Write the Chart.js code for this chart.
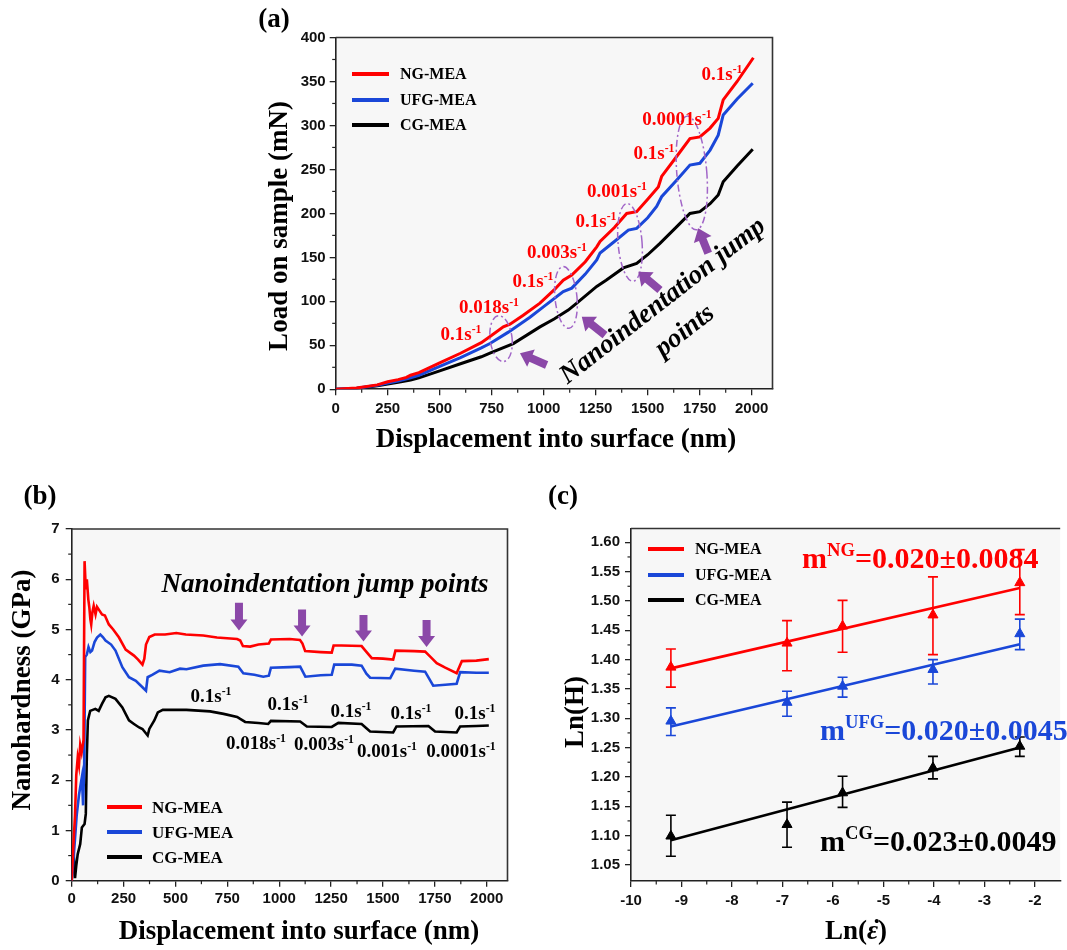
<!DOCTYPE html>
<html><head><meta charset="utf-8">
<script src="https://cdn.jsdelivr.net/npm/chart.js@4.4.1/dist/chart.umd.min.js"></script>
<style>
html,body{margin:0;padding:0;background:#fff;width:1067px;height:950px;overflow:hidden;position:relative;}
canvas{position:absolute;left:0;top:0;}
.t{position:absolute;white-space:nowrap;font-family:'Liberation Serif','Times New Roman',serif;font-weight:bold;line-height:1;color:#000;}
.sup{font-size:0.62em;position:relative;top:-0.62em;}
.lg{position:absolute;height:4px;}
.eps{position:relative;font-style:italic;}
.eps .dot{position:absolute;left:0.2em;top:0.02em;font-style:normal;}
</style></head><body>
<canvas id="ca" width="1067" height="950"></canvas>
<canvas id="cb" width="1067" height="950"></canvas>
<canvas id="cc" width="1067" height="950"></canvas>
<script>
// ---------------- DATA ----------------
const seriesNames = ['NG-MEA', 'UFG-MEA', 'CG-MEA'];

// (a) Load on sample (mN) vs displacement (nm): [displacement, load]
const loadNG = [[0,0],[100,1.5],[200,5],[250,8.5],[300,11],[340,13.5],[360,16],[400,19],[500,30],[600,41],[700,53],[742,60],[806,71],[838,74],[900,84],[982,98],[1050,113],[1094,124],[1135,130],[1200,145],[1255,162],[1271,168],[1340,184],[1399,200],[1447,202],[1500,216],[1551,230],[1567,242],[1640,265],[1703,285],[1751,287],[1800,297],[1839,308],[1863,329],[1930,350],[2008,377]];
const loadUFG = [[0,0],[100,1.2],[200,4.5],[250,7],[300,9.5],[360,13],[400,16],[500,26],[600,36],[700,47],[742,52],[830,65],[934,82],[1000,94],[1094,111],[1135,115],[1200,131],[1255,147],[1271,155],[1340,168],[1407,181],[1447,183],[1500,195],[1543,208],[1567,219],[1640,238],[1703,255],[1751,257],[1800,272],[1839,289],[1863,312],[1930,330],[2005,348]];
const loadCG = [[0,0],[100,1],[200,4],[250,6],[300,8],[360,10.5],[400,13],[500,21],[600,29],[700,37],[750,42],[854,52],[982,71],[1050,80],[1118,90],[1159,98],[1255,117],[1300,124],[1383,138],[1447,143],[1500,153],[1559,166],[1640,185],[1703,200],[1751,202],[1800,211],[1839,221],[1863,236],[1930,254],[2005,273]];

// (b) Nanohardness (GPa) vs displacement (nm): [displacement, hardness]
const hardNG = [[0,0],[8,0.7],[16,1.3],[22,2.1],[29,2.45],[35,2.3],[41,2.7],[48,2.55],[57,2.8],[62,6.36],[68,5.8],[73,6.0],[80,5.6],[85,5.44],[90,5.2],[94,5.1],[100,5.35],[106,5.47],[115,5.3],[122,5.45],[130,5.4],[146,5.3],[160,5.28],[179,5.1],[200,5.0],[228,4.84],[260,4.6],[300,4.48],[320,4.4],[341,4.3],[350,4.42],[358,4.7],[374,4.85],[400,4.9],[450,4.9],[504,4.93],[550,4.9],[634,4.88],[700,4.84],[797,4.81],[812,4.78],[825,4.67],[860,4.66],[900,4.7],[950,4.72],[960,4.8],[1050,4.81],[1100,4.79],[1112,4.72],[1125,4.57],[1200,4.55],[1253,4.54],[1262,4.68],[1300,4.68],[1397,4.67],[1415,4.58],[1446,4.43],[1500,4.42],[1549,4.4],[1560,4.58],[1650,4.57],[1703,4.56],[1730,4.45],[1759,4.33],[1800,4.24],[1855,4.13],[1862,4.2],[1880,4.37],[1950,4.38],[2010,4.41]];
const hardUFG = [[0,0],[10,0.5],[24,1.3],[35,1.7],[41,1.86],[49,2.06],[55,1.5],[60,2.2],[65,4.45],[73,4.5],[81,4.65],[90,4.55],[98,4.58],[110,4.75],[122,4.84],[138,4.9],[150,4.85],[163,4.78],[190,4.7],[211,4.58],[244,4.25],[276,4.05],[309,3.98],[341,3.85],[358,3.78],[366,4.05],[390,4.1],[423,4.18],[472,4.15],[522,4.22],[553,4.21],[634,4.28],[715,4.31],[803,4.26],[827,4.13],[880,4.1],[923,4.06],[950,4.08],[960,4.24],[1050,4.25],[1101,4.26],[1126,4.06],[1200,4.09],[1253,4.1],[1265,4.3],[1350,4.3],[1397,4.28],[1420,4.12],[1438,4.04],[1535,4.03],[1559,4.22],[1650,4.18],[1703,4.16],[1742,3.88],[1800,3.9],[1855,3.92],[1872,4.15],[1950,4.14],[2010,4.14]];
const hardCG = [[0,0],[8,0.66],[16,0.05],[22,0.3],[29,0.53],[41,0.73],[49,1.06],[62,1.13],[68,1.33],[73,2.5],[78,3.19],[89,3.38],[114,3.42],[130,3.38],[146,3.52],[163,3.65],[179,3.68],[211,3.62],[244,3.45],[276,3.19],[300,3.12],[325,3.05],[341,3.02],[366,2.89],[374,3.02],[398,3.19],[415,3.35],[439,3.4],[553,3.4],[667,3.37],[732,3.32],[797,3.26],[812,3.22],[836,3.16],[900,3.14],[947,3.12],[960,3.18],[1101,3.17],[1133,3.07],[1253,3.06],[1285,3.14],[1397,3.12],[1438,2.97],[1549,2.95],[1565,3.07],[1719,3.08],[1751,2.97],[1855,2.95],[1872,3.07],[1950,3.08],[2010,3.09]];

// (c) Ln(H) vs Ln(strain rate)
const lnRate   = [-9.21, -6.91, -5.81, -4.02, -2.30];
const lnH_NG   = [1.387, 1.428, 1.457, 1.476, 1.531];
const errHi_NG = [1.418, 1.4665, 1.501, 1.541, 1.5875];
const errLo_NG = [1.353, 1.381, 1.4125, 1.4085, 1.4766];
const lnH_UFG   = [1.295, 1.327, 1.3545, 1.383, 1.444];
const errHi_UFG = [1.3176, 1.346, 1.37, 1.40, 1.469];
const errLo_UFG = [1.2705, 1.3034, 1.336, 1.3585, 1.417];
const lnH_CG   = [1.099, 1.1187, 1.1727, 1.2153, 1.2522];
const errHi_CG = [1.1347, 1.157, 1.201, 1.235, 1.268];
const errLo_CG = [1.0648, 1.080, 1.148, 1.1966, 1.235];
const fitX   = [-9.21, -2.30];
const fitNG  = [1.385, 1.522];
const fitUFG = [1.286, 1.426];
const fitCG  = [1.092, 1.250];

// tick labels
const xTicksDisp = [0,250,500,750,1000,1250,1500,1750,2000];
const yTicksLoad = [0,50,100,150,200,250,300,350,400];
const yTicksHard = [0,1,2,3,4,5,6,7];
const xTicksLnRate = [-10,-9,-8,-7,-6,-5,-4,-3,-2];
const yTicksLnH = [1.05,1.10,1.15,1.20,1.25,1.30,1.35,1.40,1.45,1.50,1.55,1.60];

// annotation texts
const rateLabelsA = ['0.1','0.018','0.1','0.003','0.1','0.001','0.1','0.0001','0.1'];
const rateHighB = ['0.1','0.1','0.1','0.1','0.1'];
const rateLowB = ['0.018','0.003','0.001','0.0001'];
const slopeLabels = [['NG','0.020','0.0084'],['UFG','0.020','0.0045'],['CG','0.023','0.0049']];

// ---------------- STYLE / HELPERS ----------------
const RED = '#ff0000', BLUE = '#1a47d8', BLACK = '#000000', PURPLE = '#8b48a8', ELL = '#a266c8';
const COLORS = [RED, BLUE, BLACK];
const TICKFONT = {family: "'Liberation Sans', Arial, sans-serif", size: 15, weight: 'bold'};
const xy = arr => arr.map(p => ({x: p[0], y: p[1]}));
const zipXY = (xs, ys) => xs.map((x, i) => ({x, y: ys[i]}));
const mids = t => t.slice(1).map((v, i) => (v + t[i]) / 2);

function axis(min, max, ticks, fmt, size, pad, isX) {
  return {
    type: 'linear', min, max,
    afterBuildTicks: s => { s.ticks = ticks.map(v => ({value: v})); },
    afterFit: s => { if (isX) s.height = size; else s.width = size; },
    ticks: {autoSkip: false, maxRotation: 0, minRotation: 0, padding: pad, color: '#111', font: TICKFONT, callback: fmt},
    grid: {display: true, drawOnChartArea: false, drawTicks: true, tickLength: 6, color: '#222', lineWidth: 1.3},
    border: {display: true, color: '#222', width: 1.6}
  };
}

function arrow(ctx, x1, y1, x2, y2, sw, hw, hl, color) {
  const dx = x2 - x1, dy = y2 - y1, L = Math.hypot(dx, dy), ux = dx / L, uy = dy / L, nx = -uy, ny = ux;
  const bx = x2 - ux * hl, by = y2 - uy * hl;
  ctx.beginPath();
  ctx.moveTo(x1 + nx * sw / 2, y1 + ny * sw / 2);
  ctx.lineTo(bx + nx * sw / 2, by + ny * sw / 2);
  ctx.lineTo(bx + nx * hw / 2, by + ny * hw / 2);
  ctx.lineTo(x2, y2);
  ctx.lineTo(bx - nx * hw / 2, by - ny * hw / 2);
  ctx.lineTo(bx - nx * sw / 2, by - ny * sw / 2);
  ctx.lineTo(x1 - nx * sw / 2, y1 - ny * sw / 2);
  ctx.closePath();
  ctx.fillStyle = color; ctx.fill();
}

const decor = {
  id: 'decor',
  beforeDraw(chart, args, o) {
    const {ctx, chartArea: a} = chart;
    ctx.save(); ctx.fillStyle = '#f7f7f7';
    ctx.fillRect(a.left, a.top, a.right - a.left, a.bottom - a.top); ctx.restore();
  },
  beforeDatasetsDraw(chart, args, o) {
    if (!o.err) return;
    const {ctx} = chart, xs = chart.scales.x, ys = chart.scales.y;
    ctx.save(); ctx.lineWidth = 1.6;
    o.err.forEach(e => {
      ctx.strokeStyle = e.color;
      e.x.forEach((xv, i) => {
        const px = xs.getPixelForValue(xv), ph = ys.getPixelForValue(e.hi[i]), pl = ys.getPixelForValue(e.lo[i]);
        ctx.beginPath();
        ctx.moveTo(px, ph); ctx.lineTo(px, pl);
        ctx.moveTo(px - 5, ph); ctx.lineTo(px + 5, ph);
        ctx.moveTo(px - 5, pl); ctx.lineTo(px + 5, pl);
        ctx.stroke();
      });
    });
    ctx.restore();
  },
  afterDatasetsDraw(chart, args, o) {
    const {ctx} = chart, xs = chart.scales.x, ys = chart.scales.y;
    ctx.save();
    (o.ellipses || []).forEach(e => {
      ctx.strokeStyle = ELL; ctx.lineWidth = 1.5; ctx.setLineDash([7, 3, 2, 3]);
      ctx.beginPath();
      ctx.ellipse(xs.getPixelForValue(e.x), ys.getPixelForValue(e.y), e.rx, e.ry, e.rot, 0, Math.PI * 2);
      ctx.stroke();
    });
    ctx.setLineDash([]);
    (o.arrows || []).forEach(r => {
      arrow(ctx, xs.getPixelForValue(r.x1), ys.getPixelForValue(r.y1), xs.getPixelForValue(r.x2), ys.getPixelForValue(r.y2), r.sw, r.hw, r.hl, PURPLE);
    });
    ctx.restore();
  },
  afterDraw(chart, args, o) {
    const {ctx, chartArea: a} = chart, xs = chart.scales.x, ys = chart.scales.y;
    ctx.save();
    ctx.strokeStyle = '#333'; ctx.lineWidth = 1.6;
    ctx.beginPath(); ctx.moveTo(a.left, a.top); ctx.lineTo(a.right, a.top);
    if (o.rightFrame) ctx.lineTo(a.right, a.bottom);
    ctx.stroke();
    ctx.strokeStyle = '#222'; ctx.lineWidth = 1.2;
    (o.minorX || []).forEach(v => { const p = xs.getPixelForValue(v); ctx.beginPath(); ctx.moveTo(p, a.bottom); ctx.lineTo(p, a.bottom + 3.5); ctx.stroke(); });
    (o.minorY || []).forEach(v => { const p = ys.getPixelForValue(v); ctx.beginPath(); ctx.moveTo(a.left, p); ctx.lineTo(a.left - 3.5, p); ctx.stroke(); });
    ctx.restore();
  }
};

const base = (pad) => ({
  responsive: false, animation: false, devicePixelRatio: 1,
  layout: {padding: pad},
  plugins: {legend: {display: false}, tooltip: {enabled: false}}
});

// ---------------- CHART (a) ----------------
const optA = base({left: 275.7, right: 294.5, top: 37.5, bottom: 520.7});
optA.scales = {
  x: axis(0, 2100, xTicksDisp, v => String(v), 40, 5, true),
  y: axis(0, 400, yTicksLoad, v => String(v), 60, 4, false)
};
optA.plugins.decor = {
  rightFrame: true, minorX: mids(xTicksDisp), minorY: mids(yTicksLoad),
  ellipses: [
    {x: 795, y: 57.6, rx: 11, ry: 23, rot: -0.12},
    {x: 1107, y: 104.4, rx: 11, ry: 31, rot: -0.1},
    {x: 1415, y: 167, rx: 12, ry: 39, rot: -0.08},
    {x: 1712, y: 246, rx: 15, ry: 57, rot: -0.08}
  ],
  arrows: [
    {x1: 1014, y1: 27.6, x2: 886, y2: 40.9, sw: 8, hw: 19, hl: 12},
    {x1: 1295, y1: 61.7, x2: 1183, y2: 82.5, sw: 8, hw: 19, hl: 12},
    {x1: 1559, y1: 112.9, x2: 1455, y2: 133.7, sw: 8, hw: 19, hl: 12},
    {x1: 1791, y1: 154.6, x2: 1743, y2: 183, sw: 8, hw: 19, hl: 12}
  ]
};
new Chart(document.getElementById('ca'), {
  type: 'line',
  data: {datasets: [loadNG, loadUFG, loadCG].map((d, i) => ({
    label: seriesNames[i], data: xy(d), borderColor: COLORS[i], borderWidth: 3, pointRadius: 0, tension: 0, fill: false
  }))},
  options: optA, plugins: [decor]
});

// ---------------- CHART (b) ----------------
const optB = base({left: 11.7, right: 559.5, top: 529, bottom: 29.3});
optB.scales = {
  x: axis(0, 2100, xTicksDisp, v => String(v), 40, 3, true),
  y: axis(0, 7, yTicksHard, v => String(v), 60, 6, false)
};
optB.plugins.decor = {
  rightFrame: true, minorX: mids(xTicksDisp), minorY: mids(yTicksHard),
  arrows: [
    {x1: 806, y1: 5.53, x2: 806, y2: 4.98, sw: 8, hw: 17, hl: 11},
    {x1: 1110, y1: 5.40, x2: 1110, y2: 4.86, sw: 8, hw: 17, hl: 11},
    {x1: 1406, y1: 5.29, x2: 1406, y2: 4.76, sw: 8, hw: 17, hl: 11},
    {x1: 1710, y1: 5.19, x2: 1710, y2: 4.65, sw: 8, hw: 17, hl: 11}
  ]
};
new Chart(document.getElementById('cb'), {
  type: 'line',
  data: {datasets: [hardNG, hardUFG, hardCG].map((d, i) => ({
    label: seriesNames[i], data: xy(d), borderColor: COLORS[i], borderWidth: 2.6, pointRadius: 0, tension: 0, fill: false
  }))},
  options: optB, plugins: [decor]
});

// ---------------- CHART (c) ----------------
const optC = base({left: 571, right: 0, top: 528.5, bottom: 29});
optC.scales = {
  x: axis(-10, -1.5, xTicksLnRate, v => String(v), 40, 5, true),
  y: axis(1.0225, 1.6235, yTicksLnH, v => v.toFixed(2), 60, 5, false)
};
optC.plugins.decor = {
  rightFrame: false, minorX: mids(xTicksLnRate), minorY: mids(yTicksLnH),
  err: [
    {x: lnRate, hi: errHi_NG, lo: errLo_NG, color: RED},
    {x: lnRate, hi: errHi_UFG, lo: errLo_UFG, color: BLUE},
    {x: lnRate, hi: errHi_CG, lo: errLo_CG, color: BLACK}
  ]
};
const ptsC = [lnH_NG, lnH_UFG, lnH_CG];
const fitsC = [fitNG, fitUFG, fitCG];
const dsC = [];
fitsC.forEach((f, i) => dsC.push({label: seriesNames[i] + ' fit', data: zipXY(fitX, f), showLine: true, borderColor: COLORS[i], borderWidth: 2.6, pointRadius: 0}));
ptsC.forEach((p, i) => dsC.push({label: seriesNames[i], data: zipXY(lnRate, p), showLine: false, pointStyle: 'triangle', pointRadius: 5.8, backgroundColor: COLORS[i], borderColor: COLORS[i], borderWidth: 1}));
new Chart(document.getElementById('cc'), {
  type: 'scatter', data: {datasets: dsC}, options: optC, plugins: [decor]
});

// ---------------- TEXT ----------------
function T(html, x, y, o = {}) {
  const d = document.createElement('div');
  d.className = 't'; d.innerHTML = html;
  d.style.left = x + 'px'; d.style.top = y + 'px';
  d.style.fontSize = (o.size || 27) + 'px';
  if (o.color) d.style.color = o.color;
  if (o.italic) d.style.fontStyle = 'italic';
  let tr = o.anchor === 'left' ? 'translate(0,-50%)' : 'translate(-50%,-50%)';
  if (o.rot) tr += ' rotate(' + o.rot + 'deg)';
  d.style.transform = tr;
  document.body.appendChild(d);
  return d;
}
function legend(x1, x2, ys, tx, size) {
  ys.forEach((y, i) => {
    const l = document.createElement('div');
    l.className = 'lg'; l.style.left = x1 + 'px'; l.style.width = (x2 - x1) + 'px';
    l.style.top = (y - 2) + 'px'; l.style.background = COLORS[i];
    document.body.appendChild(l);
    T(seriesNames[i], tx, y, {size, anchor: 'left'});
  });
}
const rate = v => v + 's<span class="sup">-1</span>';

// panel labels and axis titles
T('(a)', 274, 18); T('(b)', 40, 495); T('(c)', 563, 495);
T('Displacement into surface (nm)', 556, 438);
T('Load on sample (mN)', 278, 226, {rot: -90});
T('Displacement into surface (nm)', 299, 930);
T('Nanohardness (GPa)', 21, 690, {rot: -90});
T('Ln(<span class="eps">\u03B5<span class="dot">\u02D9</span></span>)', 856, 930);
T('Ln(H)', 574, 712, {rot: -90});

// legends
legend(352, 389, [74, 100, 125], 400, 16);
legend(107, 142, [807, 832, 857], 152, 17);
legend(648, 684, [549, 575, 600], 695, 16);

// (a) annotations
const posA = [[461,333],[489,306],[533,280],[557,251],[596,220],[617,190],[654,152],[677,118],[722,73]];
rateLabelsA.forEach((r, i) => T(rate(r), posA[i][0], posA[i][1], {size: 19, color: RED}));
T('Nanoindentation jump', 662, 300, {size: 27, italic: true, rot: -38});
T('points', 684, 330, {size: 27, italic: true, rot: -38});

// (b) annotations
T('Nanoindentation jump points', 325, 583, {size: 27, italic: true});
const posBh = [[211,695],[288,703],[351,710],[411,712],[475,712]];
rateHighB.forEach((r, i) => T(rate(r), posBh[i][0], posBh[i][1], {size: 19}));
const posBl = [[256,742],[324,743],[387,750],[461,750]];
rateLowB.forEach((r, i) => T(rate(r), posBl[i][0], posBl[i][1], {size: 19}));

// (c) slope annotations
const posC = [[802,558],[820,730],[820,841]];
slopeLabels.forEach((s, i) => T('m<span class="sup">' + s[0] + '</span>=' + s[1] + '\u00B1' + s[2], posC[i][0], posC[i][1], {size: 30, color: COLORS[i], anchor: 'left'}));
</script>
</body></html>
